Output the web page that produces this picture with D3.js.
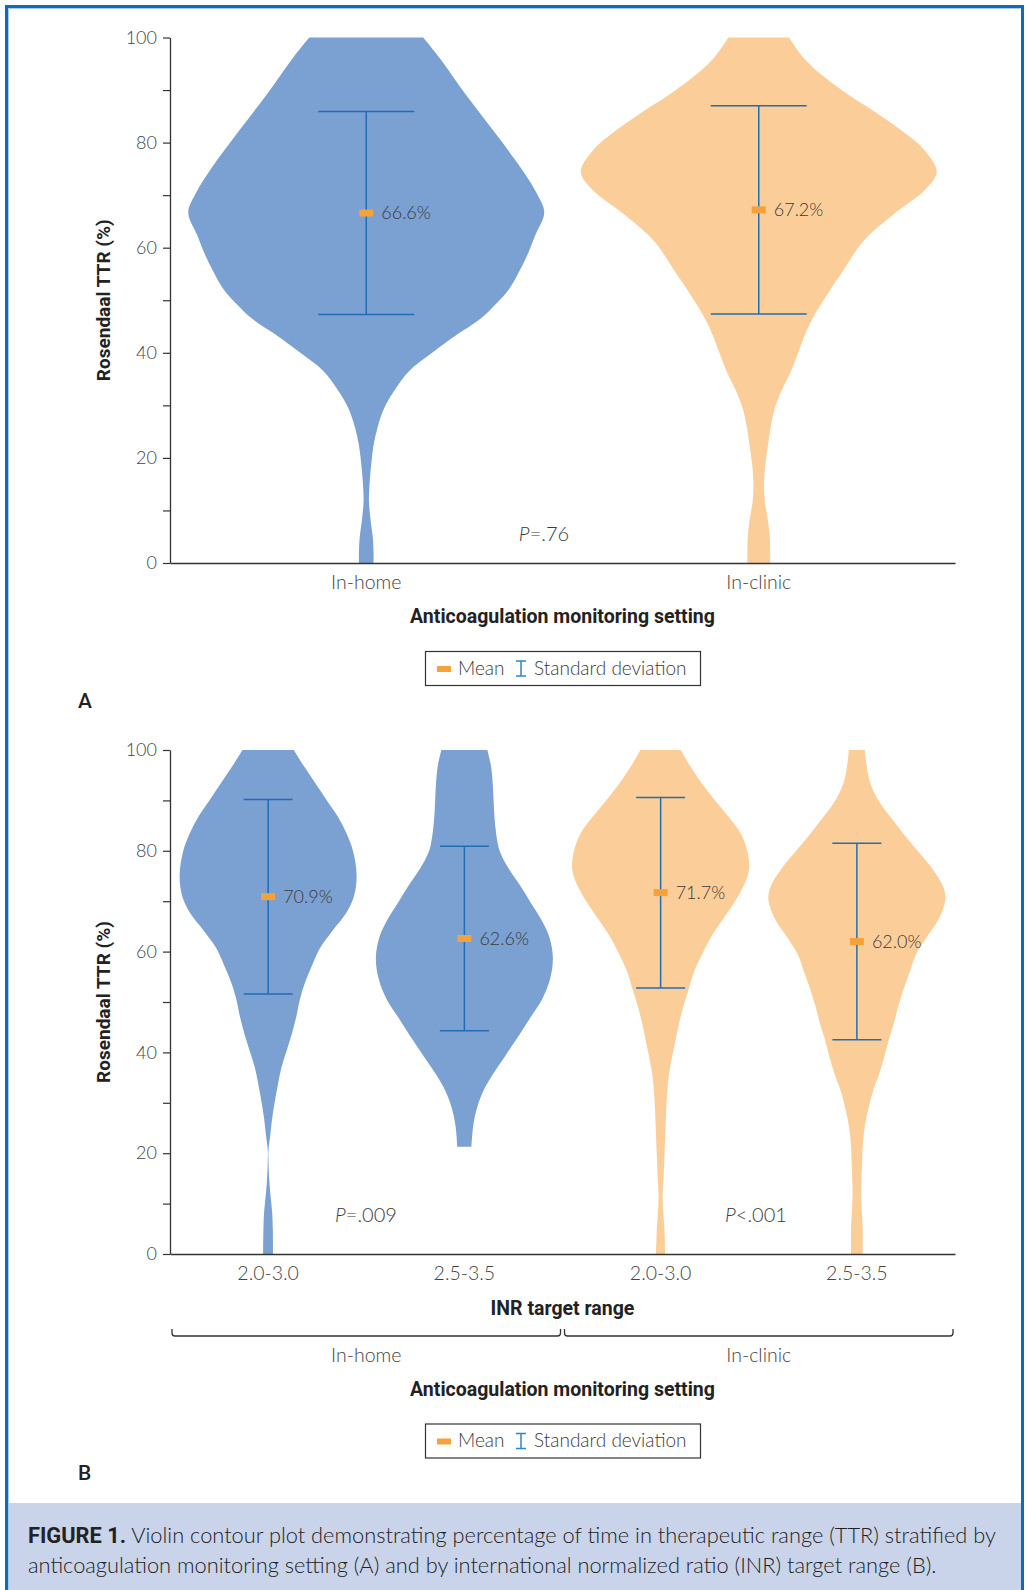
<!DOCTYPE html>
<html>
<head>
<meta charset="utf-8">
<script src="https://cdn.jsdelivr.net/npm/d3@7"></script>
<style>
  body { margin: 0; background: #fff; }
  svg { display: block; }
</style>
</head>
<body>
<svg id="fig" width="1025" height="1590"></svg>
<script>
// ---- panel A data ----
var groupsA = ["In-home", "In-clinic"];
var meansA = [66.6, 67.2];
var sdA = [19.3, 19.8];
// density outlines: TTR level (%) and relative half-width (0-100)
var levelsHomeA = [0, 2, 4.8, 8.3, 11.8, 15.3, 18.8, 22.4, 25.9, 29.4, 32.9, 36.5, 40, 43.5, 45, 47, 49, 52, 55.5, 59, 62.4, 66.7, 70.2, 75.1, 82, 89.1, 96.2, 100];
var widthsHomeA = [4.1, 4.1, 3.7, 2.4, 1.5, 1.9, 2.8, 4.1, 6.4, 10, 16, 24, 37, 51, 58, 66, 72, 80, 86, 91, 95, 100, 96, 87, 72, 56, 41, 32];
var levelsClinicA = [0, 2, 4.8, 8.3, 11.8, 15.3, 18.8, 22.4, 25.9, 29.4, 32.9, 36.4, 39.9, 43.5, 47, 51.9, 55.4, 59.6, 62.4, 66.7, 70.9, 74.4, 78.6, 82.1, 85.7, 89.2, 92.7, 96.2, 100];
var widthsClinicA = [6.4, 6.4, 6.2, 5.1, 3.4, 3.0, 3.7, 5.2, 6.7, 9, 13, 18, 22, 26, 31, 40, 47, 55, 62, 77, 93, 100, 93, 81, 66, 50, 36, 25, 17];

// ---- panel B data ----
var rangesB = ["2.0-3.0", "2.5-3.5", "2.0-3.0", "2.5-3.5"];
var settingsB = ["In-home", "In-clinic"];
var meansB = [70.9, 62.6, 71.7, 62.0];
var sdB = [19.3, 18.3, 18.9, 19.5];
var levelsB1 = [0, 5, 8.4, 11.8, 15.2, 18.6, 20.6, 23.4, 26.8, 30.2, 33.6, 37, 40.4, 43.8, 47.2, 50.6, 54, 57.4, 60.8, 64.2, 67.6, 71, 75.1, 79.9, 83.3, 86.7, 90.1, 93.5, 96.9, 100];
var widthsB1 = [5.6, 5.3, 4.5, 2.6, 1.1, 0.4, 0.4, 2.3, 4.5, 7.5, 11, 15, 21, 27, 32, 36, 42, 50, 59, 73, 88, 97, 100, 96, 89, 79, 66, 53, 40, 29];
var levelsB2 = [21.3, 25.4, 28.8, 32.2, 35.6, 39, 42.4, 46.5, 50.6, 54.7, 58.8, 62.9, 66.3, 69.7, 73.1, 76.5, 79.9, 83.3, 86.7, 90.1, 93.5, 96.9, 100];
var widthsB2 = [8, 10, 14, 21, 32, 45, 58, 73, 88, 97, 100, 96, 87, 75, 63, 50, 40, 36, 34, 33, 32, 30, 26];
var levelsB3 = [0, 5, 8.4, 11.8, 15.2, 18.6, 22, 25.4, 28.8, 32.2, 35.6, 39.1, 42.5, 45.9, 49.3, 52.7, 56.1, 59.5, 62.9, 66.3, 69.7, 73.1, 76.5, 79.9, 83.3, 86.7, 90.1, 93.5, 96.9, 100];
var widthsB3 = [5.1, 4.3, 3.0, 2.3, 3.4, 4.1, 4.9, 5.6, 6.4, 7.5, 9.4, 13, 17, 21, 26, 32, 38, 47, 57, 70, 83, 94, 100, 98, 91, 77, 61, 46, 33, 23];
var levelsB4 = [0, 5, 8.4, 11.8, 15.2, 18.6, 22, 25.4, 28.8, 32.2, 35.6, 39.1, 42.5, 45.9, 49.3, 52.7, 56.1, 59.5, 62.9, 66.3, 70.4, 73.1, 76.5, 79.9, 83.3, 86.7, 90.1, 93.5, 96.9, 100];
var widthsB4 = [6.6, 6.6, 5.6, 4.9, 5.3, 6.0, 6.8, 9, 13, 18, 25, 31, 36, 42, 47, 53, 60, 67, 79, 92, 100, 97, 85, 69, 53, 38, 24, 15, 11, 9];

var yTicks = d3.range(0, 101, 10);

var blue = "#7ba0d2", orange = "#fbce99";
var sdColor = "#1f6db5", meanColor = "#f5a23a";
var lightFont = "Lato, 'Open Sans', sans-serif";
var boldFont = "Roboto, 'DejaVu Sans', sans-serif";

var svg = d3.select("#fig");

// caption band + blue frame
svg.append("rect").attr("x", 8).attr("y", 1503).attr("width", 1014).attr("height", 87).attr("fill", "#c9d4ea");
svg.append("path").attr("d", "M6.5,1590V6.5H1022.5V1590")
  .attr("fill", "none").attr("stroke", "#0e6cb6").attr("stroke-width", 3);
svg.append("path").attr("d", "M8.5,1590V8.5H1020.5")
  .attr("fill", "none").attr("stroke", "#a9c8ea").attr("stroke-width", 1);

function styleAxis(g) {
  g.select(".domain").attr("stroke", "#333").attr("stroke-width", 1.3);
  g.selectAll(".tick line").attr("stroke", "#333").attr("stroke-width", 1.2);
  g.selectAll(".tick text").attr("fill", "#444").style("font-family", lightFont)
    .style("font-weight", 300).style("font-size", "18px");
}

function drawPanel(opt) {
  var g = svg.append("g");
  var y = d3.scaleLinear().domain([0, 100]).range([opt.bottom, opt.top]);
  var x = d3.scaleBand().domain(d3.range(opt.violins.length)).range([170, 955]);
  var w = d3.scaleLinear().domain([0, 100]).range([0, opt.maxHalf]);

  var area = d3.area()
    .curve(d3.curveCatmullRom)
    .y(function(d) { return y(d[0]); })
    .x0(function(d) { return -w(d[1]); })
    .x1(function(d) { return w(d[1]); });

  var v = g.selectAll(".violin")
    .data(opt.violins)
    .enter()
    .append("g")
    .attr("class", "violin")
    .attr("transform", function(d, i) { return "translate(" + (x(i) + x.bandwidth() / 2) + ",0)"; });

  v.append("path")
    .attr("d", function(d) { return area(d3.zip(d.levels, d.widths)); })
    .attr("fill", function(d) { return d.color; });

  // standard deviation bars
  v.append("line")
    .attr("x1", 0).attr("x2", 0)
    .attr("y1", function(d) { return y(d.mean - d.sd); })
    .attr("y2", function(d) { return y(d.mean + d.sd); })
    .attr("stroke", sdColor).attr("stroke-width", 1.5);
  [1, -1].forEach(function(s) {
    v.append("line")
      .attr("x1", -opt.cap).attr("x2", opt.cap)
      .attr("y1", function(d) { return y(d.mean + s * d.sd); })
      .attr("y2", function(d) { return y(d.mean + s * d.sd); })
      .attr("stroke", sdColor).attr("stroke-width", 1.5);
  });

  // means
  v.append("rect")
    .attr("x", -7).attr("width", 14)
    .attr("y", function(d) { return y(d.mean) - 3.5; }).attr("height", 7)
    .attr("fill", meanColor);
  v.append("text")
    .attr("x", 15)
    .attr("y", function(d) { return y(d.mean); })
    .attr("dy", "0.35em")
    .style("font-family", lightFont).style("font-weight", 300).style("font-size", "18px")
    .attr("fill", "#3a3a3a")
    .text(function(d) { return d.mean.toFixed(1) + "%"; });

  // axes
  g.append("g")
    .attr("transform", "translate(170,0)")
    .call(d3.axisLeft(y).tickValues(yTicks).tickSize(7).tickSizeOuter(0).tickPadding(6)
      .tickFormat(function(d) { return d % 20 === 0 ? d : ""; }))
    .call(styleAxis);
  g.append("g")
    .attr("transform", "translate(0," + opt.bottom + ")")
    .call(d3.axisBottom(x).tickSize(0).tickSizeOuter(0).tickPadding(12)
      .tickFormat(function(i) { return opt.violins[i].label; }))
    .call(styleAxis)
    .selectAll(".tick text").style("font-size", "19.5px");

  g.append("text")
    .attr("transform", "translate(110," + (opt.top + opt.bottom) / 2 + ") rotate(-90)")
    .attr("text-anchor", "middle")
    .style("font-family", boldFont).style("font-weight", 700).style("font-size", "19px")
    .attr("fill", "#222")
    .text("Rosendaal TTR (%)");

  // P values
  opt.pvalues.forEach(function(p) {
    var t = g.append("text")
      .attr("x", p.x).attr("y", y(p.at))
      .attr("text-anchor", "middle")
      .style("font-family", lightFont).style("font-weight", 300).style("font-size", "20px")
      .attr("fill", "#3a3a3a");
    t.append("tspan").style("font-style", "italic").text("P");
    t.append("tspan").text(p.text);
  });

  return { g: g, x: x, y: y };
}

function axisTitle(text, cy) {
  svg.append("text")
    .attr("x", 562.5).attr("y", cy).attr("dy", "0.35em")
    .attr("text-anchor", "middle")
    .style("font-family", boldFont).style("font-weight", 700).style("font-size", "19.5px")
    .attr("fill", "#222")
    .text(text);
}

function legend(top) {
  var g = svg.append("g").attr("transform", "translate(425," + top + ")");
  g.append("rect").attr("x", 0.5).attr("y", 0.5).attr("width", 275).attr("height", 34)
    .attr("fill", "#fff").attr("stroke", "#333").attr("stroke-width", 1.2);
  g.append("rect").attr("x", 12).attr("y", 15).attr("width", 14).attr("height", 6).attr("fill", meanColor);
  g.append("text").attr("x", 33).attr("y", 17).attr("dy", "0.35em")
    .style("font-family", lightFont).style("font-weight", 300).style("font-size", "19px")
    .attr("fill", "#3a3a3a").text("Mean");
  g.append("path").attr("d", "M91,10H101M96,10V25M91,25H101")
    .attr("fill", "none").attr("stroke", "#2f86c9").attr("stroke-width", 1.5);
  g.append("text").attr("x", 109).attr("y", 17).attr("dy", "0.35em")
    .style("font-family", lightFont).style("font-weight", 300).style("font-size", "19px")
    .attr("fill", "#3a3a3a").text("Standard deviation");
}

function panelLetter(letter, cy) {
  svg.append("text").attr("x", 78).attr("y", cy).attr("dy", "0.35em")
    .style("font-family", boldFont).style("font-weight", 500).style("font-size", "21px")
    .attr("fill", "#222").text(letter);
}

// ---- panel A ----
drawPanel({
  top: 37.5, bottom: 563, maxHalf: 178, cap: 48,
  violins: [
    { label: groupsA[0], levels: levelsHomeA, widths: widthsHomeA, color: blue, mean: meansA[0], sd: sdA[0] },
    { label: groupsA[1], levels: levelsClinicA, widths: widthsClinicA, color: orange, mean: meansA[1], sd: sdA[1] }
  ],
  pvalues: [{ x: 544, at: 4.1, text: "=.76" }]
});
axisTitle("Anticoagulation monitoring setting", 616);
legend(651);
panelLetter("A", 701);

// ---- panel B ----
var pb = drawPanel({
  top: 750, bottom: 1254, maxHalf: 88.5, cap: 24.5,
  violins: [
    { label: rangesB[0], levels: levelsB1, widths: widthsB1, color: blue, mean: meansB[0], sd: sdB[0] },
    { label: rangesB[1], levels: levelsB2, widths: widthsB2, color: blue, mean: meansB[1], sd: sdB[1] },
    { label: rangesB[2], levels: levelsB3, widths: widthsB3, color: orange, mean: meansB[2], sd: sdB[2] },
    { label: rangesB[3], levels: levelsB4, widths: widthsB4, color: orange, mean: meansB[3], sd: sdB[3] }
  ],
  pvalues: [{ x: 366, at: 6.4, text: "=.009" }, { x: 756, at: 6.4, text: "<.001" }]
});
axisTitle("INR target range", 1308);

// group brackets under the INR ranges
settingsB.forEach(function(s, k) {
  var a = pb.x(2 * k) + 2, b = pb.x(2 * k + 1) + pb.x.bandwidth() - 2;
  svg.append("path")
    .attr("d", "M" + a + ",1329V1333Q" + a + ",1336 " + (a + 3) + ",1336H" + (b - 3) + "Q" + b + ",1336 " + b + ",1333V1329")
    .attr("fill", "none").attr("stroke", "#333").attr("stroke-width", 1.3);
  svg.append("text")
    .attr("x", (a + b) / 2).attr("y", 1355).attr("dy", "0.35em")
    .attr("text-anchor", "middle")
    .style("font-family", lightFont).style("font-weight", 300).style("font-size", "19.5px")
    .attr("fill", "#444").text(s);
});
axisTitle("Anticoagulation monitoring setting", 1389);
legend(1423.5);
panelLetter("B", 1473);

// ---- caption ----
var cap = svg.append("g").style("font-size", "21.8px").attr("fill", "#222");
var l1 = cap.append("text").attr("x", 28).attr("y", 1543);
l1.append("tspan").style("font-family", boldFont).style("font-weight", 700).text("FIGURE 1.");
l1.append("tspan").style("font-family", lightFont).style("font-weight", 300)
  .text(" Violin contour plot demonstrating percentage of time in therapeutic range (TTR) stratified by");
cap.append("text").attr("x", 28).attr("y", 1573)
  .style("font-family", lightFont).style("font-weight", 300)
  .text("anticoagulation monitoring setting (A) and by international normalized ratio (INR) target range (B).");
</script>
</body>
</html>
